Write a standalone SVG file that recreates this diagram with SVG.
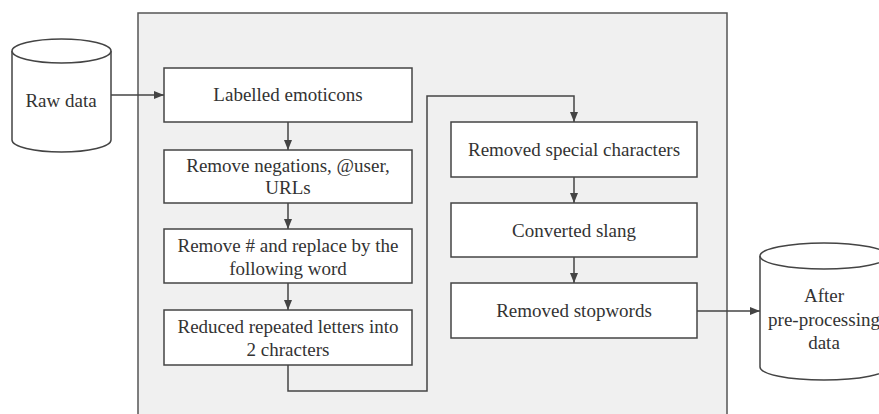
<svg xmlns="http://www.w3.org/2000/svg" width="879" height="414" viewBox="0 0 879 414">
<style>
.box{fill:#fff;stroke:#444;stroke-width:1.5}
.lbl{font-family:"Liberation Serif","Times New Roman",serif;font-size:19px;fill:#333;text-anchor:middle}
.c{fill:none;stroke:#444;stroke-width:1.5}
</style>
<defs>
<marker id="ah" markerWidth="10" markerHeight="8" refX="10" refY="4" orient="auto" markerUnits="userSpaceOnUse">
<path d="M0,0 L10,4 L0,8 Z" fill="#444"/>
</marker>
</defs>
<rect width="879" height="414" fill="#fff"/>
<g id="container">
<path d="M138,416 V13 H727 V416" fill="#f0f0f0" stroke="#555" stroke-width="1.5"/>
</g>
<g id="raw-data">
<path class="box" d="M12,51 V140 A49.5,12 0 0 0 111,140 V51"/>
<ellipse class="box" cx="61.5" cy="51" rx="49.5" ry="12"/>
<text class="lbl" x="61" y="107">Raw data</text>
</g>
<g id="after-data">
<path class="box" d="M760,256 V367 A64,13 0 0 0 888,367 V256"/>
<ellipse class="box" cx="824" cy="256" rx="64" ry="13"/>
<text class="lbl" x="824" y="302">After</text>
<text class="lbl" x="824" y="326">pre-processing</text>
<text class="lbl" x="824" y="349">data</text>
</g>
<g id="n1">
<rect class="box" x="164" y="68" width="248" height="54"/>
<text class="lbl" x="288" y="101">Labelled emoticons</text>
</g>
<g id="n2">
<rect class="box" x="164" y="150" width="248" height="53"/>
<text class="lbl" x="288" y="172">Remove negations, @user,</text>
<text class="lbl" x="288" y="194">URLs</text>
</g>
<g id="n3">
<rect class="box" x="164" y="229" width="248" height="54"/>
<text class="lbl" x="288" y="252">Remove # and replace by the</text>
<text class="lbl" x="288" y="275">following word</text>
</g>
<g id="n4">
<rect class="box" x="164" y="310" width="248" height="55"/>
<text class="lbl" x="288" y="333">Reduced repeated letters into</text>
<text class="lbl" x="288" y="356">2 chracters</text>
</g>
<g id="n5">
<rect class="box" x="451" y="122" width="246" height="55"/>
<text class="lbl" x="574" y="156">Removed special characters</text>
</g>
<g id="n6">
<rect class="box" x="451" y="203" width="246" height="54"/>
<text class="lbl" x="574" y="237">Converted slang</text>
</g>
<g id="n7">
<rect class="box" x="451" y="283" width="246" height="55"/>
<text class="lbl" x="574" y="317">Removed stopwords</text>
</g>
<g id="connectors">
<path class="c" d="M111,95 H164" marker-end="url(#ah)"/>
<path class="c" d="M288,122 V150" marker-end="url(#ah)"/>
<path class="c" d="M288,203 V229" marker-end="url(#ah)"/>
<path class="c" d="M288,283 V310" marker-end="url(#ah)"/>
<path class="c" d="M288,365 V391 H427 V96 H574 V122" marker-end="url(#ah)"/>
<path class="c" d="M574,177 V203" marker-end="url(#ah)"/>
<path class="c" d="M574,257 V283" marker-end="url(#ah)"/>
<path class="c" d="M697,311 H760" marker-end="url(#ah)"/>
</g>
</svg>
